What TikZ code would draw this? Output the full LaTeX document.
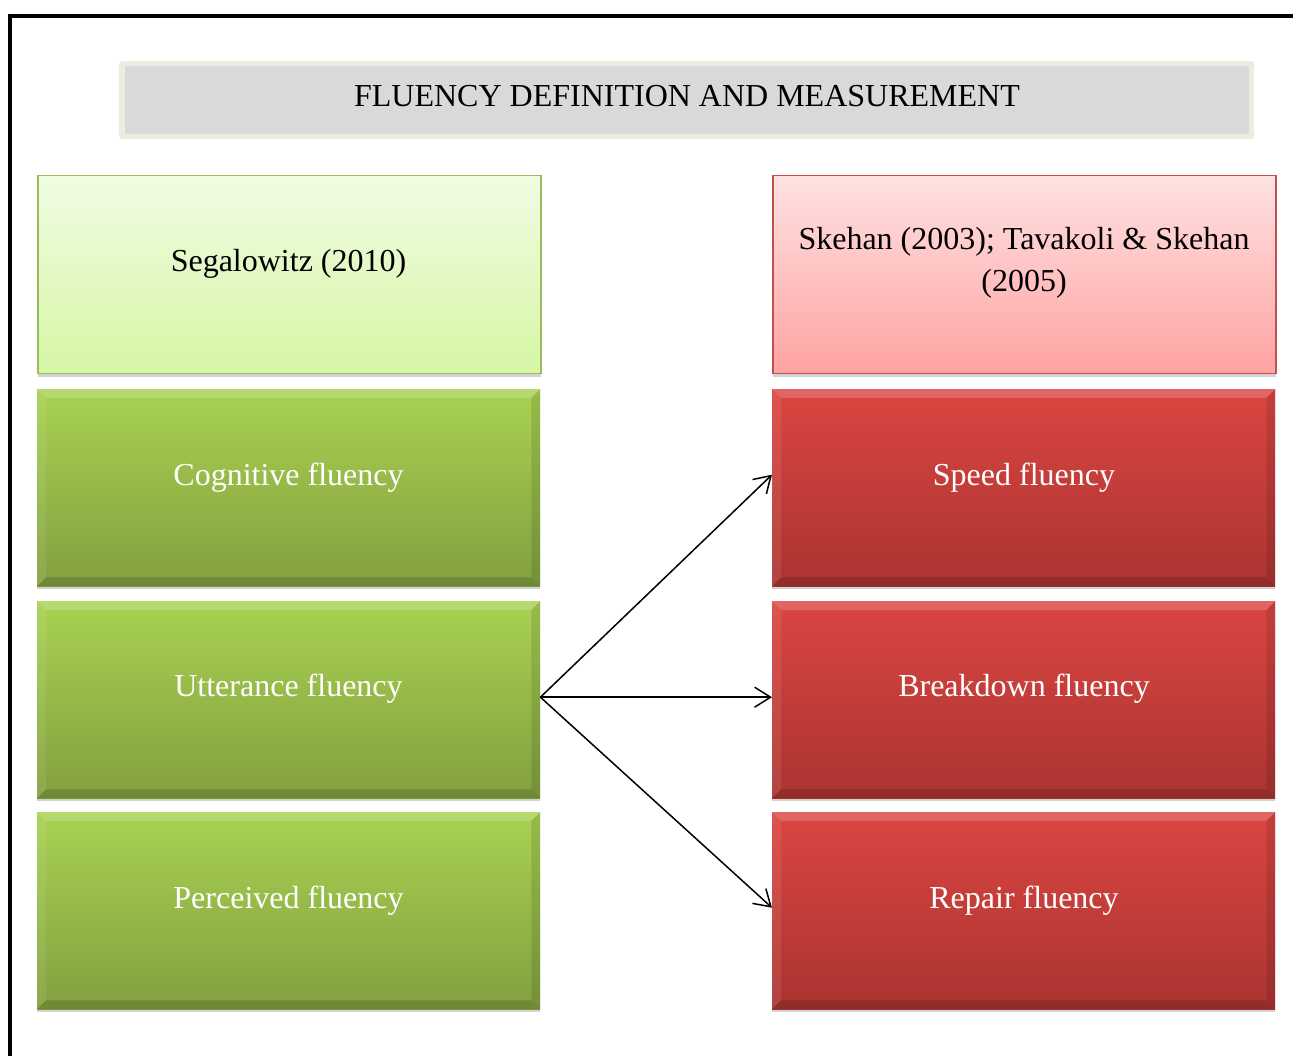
\documentclass[tikz,border=0pt]{standalone}
\usepackage{fontspec}
\setmainfont{Liberation Serif}
\usetikzlibrary{arrows.meta,shadows}
\definecolor{cream}{HTML}{EEECE1}
\definecolor{titlegray}{HTML}{D9D9D9}
\definecolor{lgTop}{HTML}{F0FCE2}
\definecolor{lgBot}{HTML}{D6F6A6}
\definecolor{lgBorder}{HTML}{9BBB59}
\definecolor{lrTop}{HTML}{FFE2E2}
\definecolor{lrBot}{HTML}{FFA2A2}
\definecolor{lrBorder}{HTML}{C0504D}
\definecolor{gTop}{HTML}{A8D151}
\definecolor{gBot}{HTML}{82A040}
\definecolor{rTop}{HTML}{DB4541}
\definecolor{rBot}{HTML}{AA3431}
\newcommand\mybevel[1]{%
  \fill[white,opacity=.18] (#1.north west) -- (#1.north east) -- ([xshift=-9pt,yshift=-9pt]#1.north east) -- ([xshift=9pt,yshift=-9pt]#1.north west) -- cycle;
  \fill[white,opacity=.08] (#1.north west) -- ([xshift=9pt,yshift=-9pt]#1.north west) -- ([xshift=9pt,yshift=9pt]#1.south west) -- (#1.south west) -- cycle;
  \fill[black,opacity=.10] (#1.north east) -- ([xshift=-9pt,yshift=-9pt]#1.north east) -- ([xshift=-9pt,yshift=9pt]#1.south east) -- (#1.south east) -- cycle;
  \fill[black,opacity=.15] (#1.south west) -- ([xshift=9pt,yshift=9pt]#1.south west) -- ([xshift=-9pt,yshift=9pt]#1.south east) -- (#1.south east) -- cycle;
}
\tikzset{
  boxbase/.style={rectangle, inner sep=0pt, minimum width=503pt, anchor=north west,
    drop shadow={shadow xshift=0pt, shadow yshift=-3pt, opacity=.25, fill=black!70}},
  headgreen/.style={boxbase, minimum height=198pt, top color=lgTop, bottom color=lgBot, draw=lgBorder, line width=1.5pt},
  headred/.style={boxbase, minimum height=198pt, top color=lrTop, bottom color=lrBot, draw=lrBorder, line width=1.5pt},
  greenbox/.style={boxbase, minimum height=197pt, top color=gTop, bottom color=gBot},
  redbox/.style={boxbase, minimum height=197pt, top color=rTop, bottom color=rBot},
  lbl/.style={font=\fontsize{32}{42}\selectfont, align=center, inner sep=0pt},
  wlbl/.style={lbl, text=white},
  arr/.style={line width=1.5pt, -{Straight Barb[length=16pt,width=20pt,line width=1.5pt]}}
}
\begin{document}
\begin{tikzpicture}[x=1pt,y=-1pt]
\useasboundingbox (0,0) rectangle (1293,1056);
% frame
\draw[line width=4.5pt] (10,1056) -- (10,16) -- (1293,16);
% title
\node (titleout) [rectangle, fill=cream, rounded corners=3pt, inner sep=0pt, minimum width=1135pt, minimum height=78pt, anchor=north west] at (119,61) {};
\node (titlein) [rectangle, fill=titlegray, inner sep=0pt, minimum width=1124pt, minimum height=68pt, anchor=north west] at (125,66) {};
\node (title) [lbl] at (687,96) {FLUENCY DEFINITION AND MEASUREMENT};
% headers
\node (seg) [headgreen] at (37,175) {};
\node (segt) [lbl] at (288.5,263.5) {Segalowitz (2010)};
\node (ske) [headred] at (772,175) {};
\node (sket) [lbl] at (1024,262.5) {Skehan (2003); Tavakoli \& Skehan\\(2005)};
% green boxes
\node (cog) [greenbox] at (37,389) {};
\node (utt) [greenbox] at (37,601) {};
\node (per) [greenbox] at (37,812) {};
% red boxes
\node (spd) [redbox] at (772,389) {};
\node (brk) [redbox] at (772,601) {};
\node (rep) [redbox] at (772,812) {};
\mybevel{cog}\mybevel{utt}\mybevel{per}
\mybevel{spd}\mybevel{brk}\mybevel{rep}
\node (cogt) [wlbl] at (288.5,477.5) {Cognitive fluency};
\node (uttt) [wlbl] at (288.5,688.5) {Utterance fluency};
\node (pert) [wlbl] at (288.5,900.5) {Perceived fluency};
\node (spdt) [wlbl] at (1024,477.5) {Speed fluency};
\node (brkt) [wlbl] at (1024,688.5) {Breakdown fluency};
\node (rept) [wlbl] at (1024,900.5) {Repair fluency};
% arrows
\coordinate (src) at ([yshift=2.5pt]utt.east);
\draw[arr] (src) -- ([yshift=13pt]spd.west);
\draw[arr] (src) -- ([yshift=2.5pt]brk.west);
\draw[arr] (src) -- ([yshift=3pt]rep.west);
\end{tikzpicture}
\end{document}
